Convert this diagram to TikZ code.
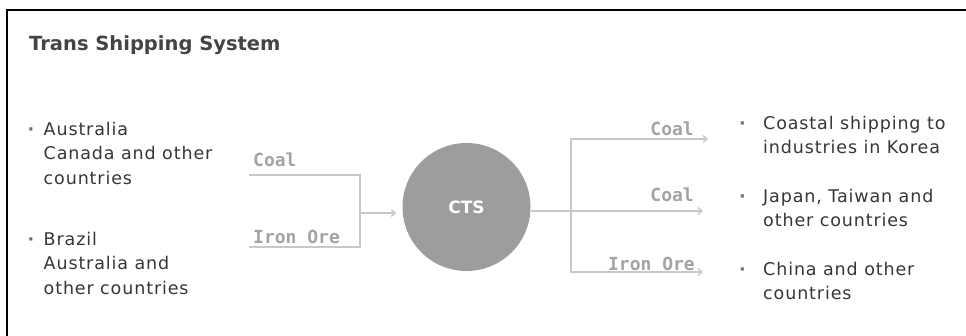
\documentclass[tikz,border=0pt]{standalone}
\usepackage{fontspec}
\setmainfont{DejaVu Sans}
\newfontfamily\bodyfont[LetterSpace=5]{DejaVu Sans}
\newfontfamily\titlefont{DejaVu Sans}
\newfontfamily\labelfont{DejaVu Sans Mono}
\usetikzlibrary{arrows.meta}
\definecolor{txt}{HTML}{363636}
\definecolor{ttl}{HTML}{444444}
\definecolor{lbl}{HTML}{A3A3A3}
\definecolor{ln}{HTML}{C8C8C8}
\definecolor{circ}{HTML}{9D9D9D}
\definecolor{dotc}{HTML}{707070}
\newcommand{\bul}[1]{\makebox[#1][l]{\textcolor{dotc}{\bfseries·}}}
\begin{document}
\begin{tikzpicture}[x=1pt,y=-1pt,
  frame/.style={line width=2pt,draw=black},
  flow/.style={draw=ln,line width=1.3pt},
  barb/.tip={Straight Barb[length=4pt,width=7pt]},
  flowarr/.style={flow,-barb},
  lab/.style={font=\labelfont\bfseries\fontsize{18}{18}\selectfont,text=lbl,inner sep=0pt},
  body/.style={font=\bodyfont\fontsize{17.5}{24.5}\selectfont,text=txt,inner sep=0pt,anchor=base west},
]
\useasboundingbox (0,0) rectangle (966,335);
\coordinate (fTL) at (7,10);
\coordinate (fTR) at (966,10);
\coordinate (fBL) at (7,336);
\draw[frame] (fTR) -- (fTL) -- (fBL);

\node[anchor=base west, font=\titlefont\bfseries\fontsize{19.5}{20}\selectfont, text=ttl, inner sep=0pt] (title) at (29,50) {Trans Shipping System};

% sources
\node[body] (src1) at (27.5,135) {\begin{tabular}[t]{@{}l@{}l@{}}\bul{16pt}&Australia\\&Canada and other\\&countries\end{tabular}};
\node[body] (src2) at (27.5,245) {\begin{tabular}[t]{@{}l@{}l@{}}\bul{16pt}&Brazil\\&Australia and\\&other countries\end{tabular}};

% destinations
\node[body] (dst1) at (739,129) {\begin{tabular}[t]{@{}l@{}l@{}}\bul{24pt}&Coastal shipping to\\&industries in Korea\end{tabular}};
\node[body] (dst2) at (739,202) {\begin{tabular}[t]{@{}l@{}l@{}}\bul{24pt}&Japan, Taiwan and\\&other countries\end{tabular}};
\node[body] (dst3) at (739,275) {\begin{tabular}[t]{@{}l@{}l@{}}\bul{24pt}&China and other\\&countries\end{tabular}};

% CTS circle
\node[circle,fill=circ,minimum size=128pt,inner sep=0pt,text=white,
      font=\titlefont\bfseries\fontsize{17}{17}\selectfont] (cts) at (466.5,207) {\raisebox{-3.5pt}{CTS}};

% labels
\node[lab,anchor=base west] (inCoal) at (253,166) {Coal};
\node[lab,anchor=base west] (inOre) at (253,243) {Iron Ore};
\node[lab,anchor=base east] (outCoalA) at (694,135) {Coal};
\node[lab,anchor=base east] (outCoalB) at (694,201) {Coal};
\node[lab,anchor=base east] (outOre) at (695,270) {Iron Ore};

% input connectors
\coordinate (a1) at (249,175);
\coordinate (a2) at (249,247);
\coordinate (jx) at (360,213);
\draw[flow] (a1) -- (a1 -| jx) -- (a2 -| jx) -- (a2);
\draw[flowarr] (jx) -- ([xshift=-6pt]cts.west |- jx);

% output connectors
\coordinate (b1) at (571,139);
\coordinate (b0) at (571,211);
\coordinate (b3) at (571,272);
\coordinate (t1) at (708,139);
\coordinate (t2) at (703,211);
\coordinate (t3) at (703,272);
\draw[flow,barb-barb] (t3) -- (b3) -- (b1) -- (t1);
\draw[flowarr] (cts.east |- b0) -- (t2);
\end{tikzpicture}
\end{document}
